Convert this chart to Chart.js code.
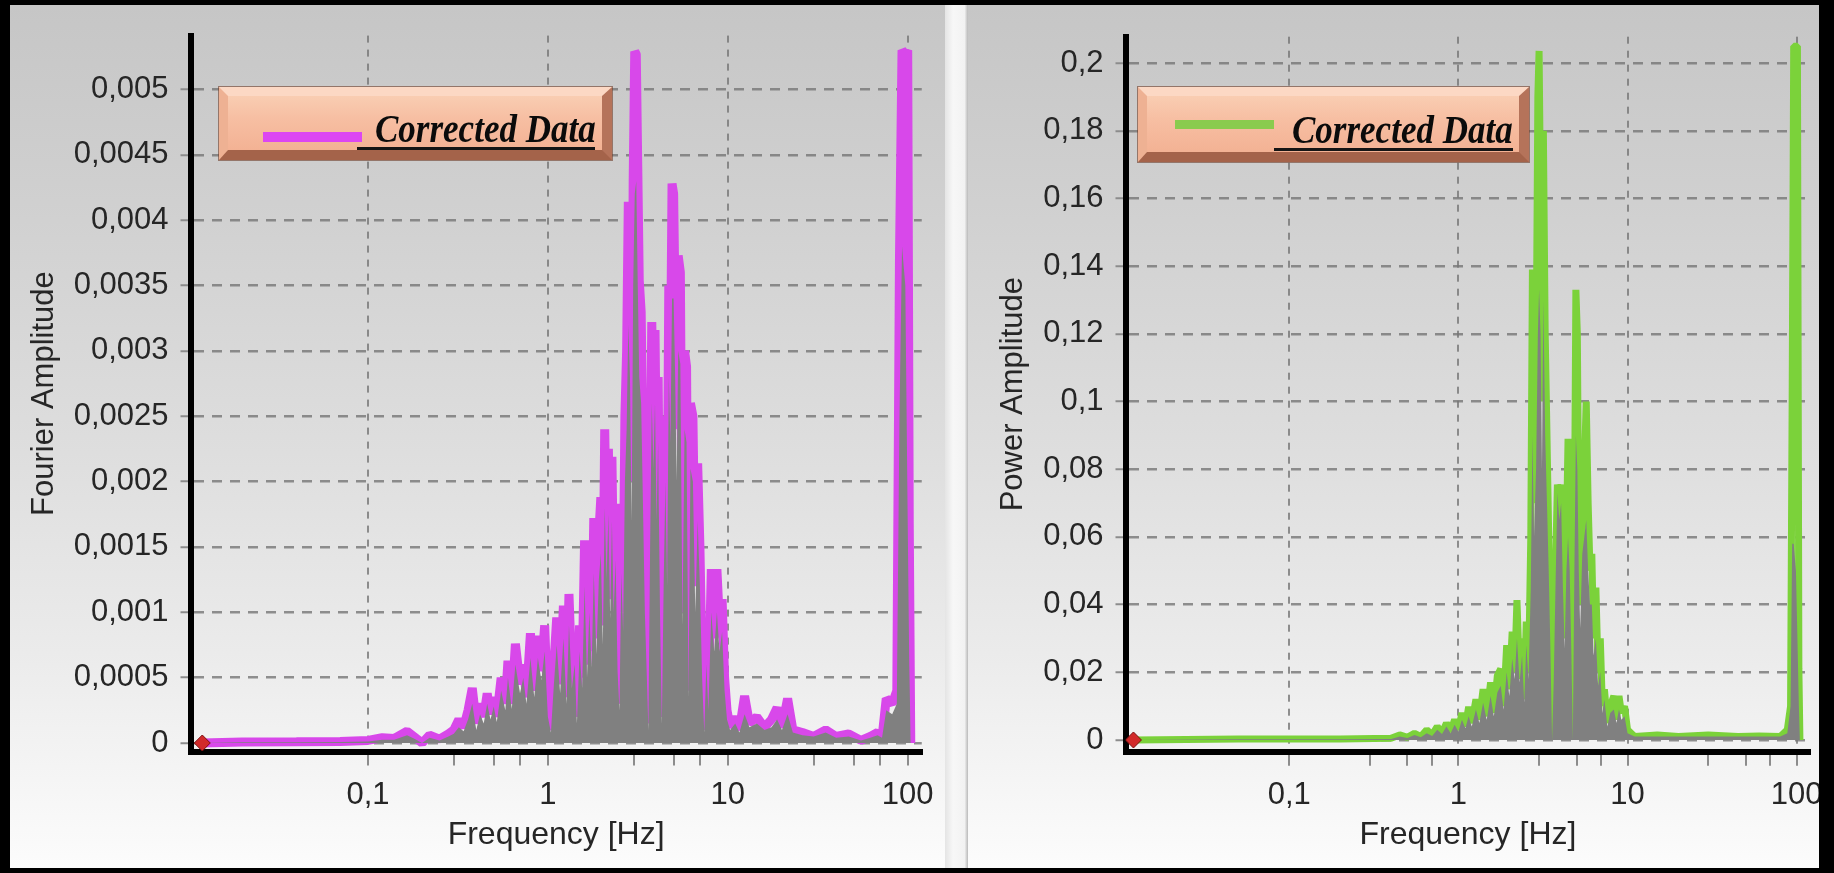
<!DOCTYPE html>
<html><head><meta charset="utf-8">
<script src="https://cdn.jsdelivr.net/npm/chart.js@4.4.1/dist/chart.umd.min.js"></script>
<style>
html,body{margin:0;padding:0;background:#000;width:1834px;height:873px;overflow:hidden;position:relative;}
.panel{position:absolute;top:5px;height:863px;background:linear-gradient(180deg,#c6c6c6 0%,#d1d1d1 25%,#dddddd 50%,#ebebeb 75%,#fcfcfc 100%);}
#pl{left:10px;width:935px;}
#sep{position:absolute;left:945px;top:5px;width:23px;height:863px;background:linear-gradient(90deg,#e4e4e4,#f7f7f7 35%,#f2f2f2 85%,#b9b9b9);}
#pr{left:968px;width:866px;}
canvas{position:absolute;left:0;top:0;}
#rb{position:absolute;left:1819px;top:0;width:15px;height:873px;background:#000;}
.lg{position:absolute;box-sizing:border-box;border-style:solid;border-width:9px 10px 10px 9px;border-color:#fcd8c4 #b5735a #a4634a #eeb193;background:linear-gradient(180deg,#f9cdb2 0%,#f7bfa3 40%,#f3b294 100%);box-shadow:0 0 0 1px rgba(110,60,40,.6);}
.sw{position:absolute;}
.lt{position:absolute;font:italic bold 35px "Liberation Serif",serif;line-height:35px;color:#0b0b0b;white-space:nowrap;transform:scaleY(1.12);transform-origin:0 29px;}
.ul{position:absolute;height:3px;background:#151515;}
</style></head>
<body>
<div id="pl" class="panel"><canvas id="cl" width="935" height="863"></canvas></div>
<div id="sep"></div>
<div id="pr" class="panel"><canvas id="cr" width="866" height="863"></canvas></div>
<div id="rb"></div>

<div class="lg" style="left:219px;top:87px;width:393px;height:73px"></div>
<div class="sw" style="left:263px;top:132px;width:99px;height:10px;background:#dc46f2"></div>
<div class="ul" style="left:357px;top:147px;width:238px"></div>
<div class="lt" style="left:375px;top:113px">Corrected Data</div>

<div class="lg" style="left:1138px;top:87px;width:391px;height:75px"></div>
<div class="sw" style="left:1175px;top:120px;width:99px;height:9px;background:#8acb4e"></div>
<div class="ul" style="left:1274px;top:148px;width:239px"></div>
<div class="lt" style="left:1292px;top:114px">Corrected Data</div>

<script>
// ---------- Left chart: Fourier amplitude spectrum ----------
const freqL = [
  0.012,0.02,0.04,0.07,0.1,0.12,0.14,0.165,0.18,0.2,
  0.22,0.25,0.28,0.3,0.32,0.34,0.36,0.38,0.40,0.42,
  0.44,0.46,0.48,0.5,0.52,0.55,0.58,0.6,0.63,0.66,
  0.7,0.73,0.76,0.8,0.84,0.88,0.92,0.96,1.0,1.04,
  1.08,1.12,1.17,1.22,1.27,1.31,1.36,1.41,1.45,1.5,
  1.55,1.6,1.65,1.7,1.75,1.8,1.86,1.92,1.97,2.02,
  2.07,2.12,2.17,2.22,2.27,2.32,2.38,2.44,2.5,2.56,
  2.62,2.68,2.74,2.8,2.86,2.92,2.98,3.04,3.1,3.16,
  3.22,3.3,3.38,3.46,3.55,3.62,3.7,3.78,3.86,3.94,
  4.02,4.1,4.2,4.3,4.4,4.5,4.6,4.7,4.8,4.9,
  5.0,5.1,5.2,5.3,5.45,5.6,5.75,5.9,6.05,6.2,
  6.4,6.6,6.8,7.0,7.2,7.4,7.6,7.8,8.1,8.4,
  8.7,9.0,9.3,9.6,9.9,10.3,11,11.6,12.4,13.2,
  14.5,16,17.5,18.8,20,21.5,23,26,30,35,
  40,47,55,62,68,72,76,82,87,90,
  93,97,100,102,104
];
const fourierCorr = [
  0,0.000008,0.00001,0.000012,0.00002,0.00004,0.000035,0.00009,0.00005,0,
  0.00006,0.00003,0.00007,0.0001,0.00018,0.00012,0.00025,0.00042,0.00015,0.0003,
  0.0002,0.00038,0.00022,0.00035,0.0002,0.0005,0.0003,0.00063,0.0003,0.00076,
  0.00045,0.0006,0.00035,0.00084,0.0004,0.00082,0.00055,0.0009,0.00025,0.0001,
  0.0006,0.00096,0.00045,0.00105,0.00035,0.00114,0.0005,0.0008,0.0002,0.0009,
  0.0005,0.00155,0.0006,0.0013,0.0007,0.00172,0.0008,0.0016,0.00188,0.0009,
  0.0024,0.0015,0.00225,0.0011,0.00219,0.0012,0.00183,0.0006,0.0003,0.0017,
  0.001,0.0025,0.003,0.00414,0.0034,0.002,0.0043,0.00529,0.00527,0.0044,
  0.00354,0.0033,0.0022,0.00125,0.0006,0.00015,0.0018,0.00322,0.0025,0.00316,
  0.002,0.0028,0.0012,0.0002,0.0015,0.0025,0.0015,0.0035,0.0028,0.00428,
  0.0042,0.0033,0.0024,0.00373,0.0036,0.001,0.003,0.00288,0.0004,0.0026,
  0.0025,0.0012,0.00214,0.0015,0.0006,0.0001,0.0007,0.0003,0.00133,0.0008,
  0.00133,0.0009,0.0011,0.0005,0.00025,0.00012,0.0002,0.0001,0.00036,0.00015,
  0.0002,0.00012,0.00018,0.00027,0.00012,0.00034,0.0001,0.00008,0.00005,0.0001,
  0.00005,0.00007,0.00002,0.00005,0.00008,0.00004,0.00034,0.0003,0.0004,0.0037,
  0.0053,0.00527,0.0053,0.00168,0
];
const fourierRaw = [
  0,0.000005,0.000006,0.000008,0.000012,0.000025,0.000025,0.00006,0.000035,0,
  0.00004,0.00002,0.00005,0.00007,0.00012,0.00009,0.00018,0.0003,0.0001,0.00022,
  0.00015,0.0003,0.00018,0.00028,0.00016,0.0004,0.00025,0.0005,0.00026,0.0006,
  0.00038,0.0005,0.0003,0.00065,0.00035,0.00065,0.00048,0.0007,0.0002,0.00008,
  0.00045,0.00075,0.00038,0.0008,0.0003,0.0009,0.00042,0.0006,0.00015,0.0007,
  0.00042,0.0012,0.0005,0.001,0.00058,0.0013,0.00068,0.00125,0.00145,0.00075,
  0.0018,0.00125,0.00175,0.00095,0.0017,0.001,0.0014,0.00055,0.00025,0.0013,
  0.00085,0.002,0.0024,0.0032,0.0028,0.0017,0.0035,0.0042,0.0043,0.0035,
  0.0028,0.0026,0.0018,0.001,0.0005,0.0001,0.0015,0.0026,0.0021,0.0026,
  0.0017,0.0023,0.001,0.00015,0.0012,0.002,0.0012,0.0028,0.0023,0.0034,
  0.0034,0.0028,0.002,0.003,0.0029,0.0009,0.0024,0.0023,0.00035,0.0021,
  0.002,0.001,0.0017,0.0012,0.0005,0.00008,0.0006,0.00025,0.001,0.0007,
  0.001,0.0007,0.00085,0.0004,0.00018,0.0001,0.00015,0.00008,0.00022,0.00012,
  0.00015,0.0001,0.00012,0.00018,0.0001,0.00022,0.00008,0.00006,0.00005,0.00008,
  0.00004,0.00005,0.00002,0.00004,0.00006,0.00004,0.00025,0.00022,0.0003,0.0025,
  0.0038,0.0035,0.0017,0.0006,0
];

// ---------- Right chart: power amplitude spectrum ----------
const freqR = [
  0.012,0.05,0.1,0.2,0.4,0.45,0.5,0.55,0.6,0.65,
  0.7,0.75,0.8,0.85,0.9,0.95,1.0,1.05,1.1,1.15,
  1.2,1.27,1.33,1.4,1.47,1.55,1.62,1.7,1.78,1.85,
  1.93,2.0,2.08,2.15,2.22,2.3,2.38,2.45,2.52,2.6,
  2.68,2.74,2.8,2.88,2.95,3.0,3.06,3.12,3.18,3.26,
  3.34,3.42,3.5,3.58,3.66,3.75,3.85,3.95,4.05,4.15,
  4.25,4.35,4.45,4.55,4.65,4.75,4.85,4.95,5.05,5.15,
  5.25,5.4,5.55,5.7,5.85,6.0,6.15,6.3,6.5,6.7,
  6.9,7.1,7.3,7.6,7.9,8.3,8.6,8.9,9.2,9.6,
  10,11,15,20,30,45,60,80,88,92,
  94,96,99,101,103,104.5
];
const powerCorr = [
  0,0.0003,0.0003,0.0003,0.0005,0.0015,0.0008,0.002,0.001,0.003,
  0.0015,0.004,0.002,0.005,0.0025,0.006,0.003,0.008,0.004,0.0098,
  0.005,0.012,0.006,0.015,0.007,0.017,0.008,0.019,0.021,0.01,
  0.028,0.015,0.032,0.02,0.0413,0.018,0.03,0.012,0.035,0.02,
  0.06,0.139,0.07,0.11,0.19,0.2036,0.16,0.1,0.18,0.12,
  0.09,0.06,0.03,0,0.02,0.05,0.0755,0.07,0.0755,0.05,
  0.03,0.06,0.089,0.06,0.03,0,0.06,0.133,0.12,0.06,
  0.04,0.07,0.08,0.1,0.07,0.05,0.055,0.03,0.045,0.02,
  0.03,0.01,0.015,0.005,0.01,0.013,0.006,0.013,0.008,0.01,
  0.003,0.001,0.0015,0.001,0.0015,0.001,0.0012,0.001,0.003,0.01,
  0.1,0.205,0.205,0.205,0.021,0
];
const powerRaw = [
  0,0.0002,0.0002,0.0002,0.0003,0.001,0.0006,0.0015,0.0008,0.002,
  0.0012,0.003,0.0018,0.004,0.002,0.0045,0.0025,0.006,0.0035,0.007,
  0.004,0.009,0.005,0.011,0.006,0.013,0.007,0.014,0.016,0.009,
  0.02,0.013,0.024,0.018,0.03,0.017,0.025,0.011,0.028,0.018,
  0.045,0.09,0.06,0.08,0.12,0.133,0.12,0.08,0.13,0.09,
  0.07,0.05,0.027,0,0.017,0.045,0.073,0.065,0.07,0.045,
  0.027,0.05,0.06,0.05,0.027,0,0.05,0.09,0.08,0.05,
  0.033,0.055,0.06,0.065,0.05,0.04,0.04,0.025,0.03,0.016,
  0.02,0.008,0.012,0.004,0.008,0.009,0.005,0.009,0.006,0.007,
  0.002,0.001,0.001,0.001,0.001,0.001,0.001,0.001,0.002,0.01,
  0.058,0.058,0.05,0.03,0.01,0
];

// ---------- Axis ticks ----------
const xTickVals   = [0.1,0.3,0.5,0.7,1,3,5,7,10,30,50,70,100];
const xTickLabels = ['0,1','','','','1','','','','10','','','','100'];
const xMajorVals  = [0.1,1,10,100];
const yTicksL      = [0,0.0005,0.001,0.0015,0.002,0.0025,0.003,0.0035,0.004,0.0045,0.005];
const yTickLabelsL = ['0','0,0005','0,001','0,0015','0,002','0,0025','0,003','0,0035','0,004','0,0045','0,005'];
const yTicksR      = [0,0.02,0.04,0.06,0.08,0.1,0.12,0.14,0.16,0.18,0.2];
const yTickLabelsR = ['0','0,02','0,04','0,06','0,08','0,1','0,12','0,14','0,16','0,18','0,2'];

const FONT = 'Liberation Sans, Arial, sans-serif';
const TXT = '#262626';
const GRID = 'rgba(118,118,118,0.8)';

function pts(xs, ys){ return xs.map((x,i)=>({x:x, y:ys[i]})); }

function build(id, o){
  return new Chart(document.getElementById(id), {
    type:'line',
    data:{datasets:[
      {label:'marker', type:'scatter', data:[{x:o.f[0], y:o.c[0]}], pointStyle:'rectRot', pointRadius:8,
       pointBackgroundColor:'#d22a2a', pointBorderColor:'#7a1010', pointBorderWidth:1, showLine:false, order:0},
      {label:'raw', data:pts(o.f,o.r), borderWidth:0, borderColor:'rgba(0,0,0,0)', backgroundColor:'#808080',
       fill:'origin', pointRadius:0, tension:0, order:1},
      {label:'Corrected Data', data:pts(o.f,o.c), borderColor:o.color, borderWidth:o.lw, borderJoinStyle:'bevel',
       fill:false, pointRadius:0, tension:0, order:2}
    ]},
    options:{
      responsive:false, animation:false, events:[],
      layout:{padding:{left:0, right:o.padR, top:o.padT, bottom:0}},
      plugins:{legend:{display:false}, tooltip:{enabled:false}},
      scales:{
        x:{type:'logarithmic', min:o.xmin, max:o.xmax,
          afterBuildTicks:s=>{ s.ticks = xTickVals.map(v=>({value:v})); },
          afterFit:s=>{ s.height = o.xh; },
          ticks:{autoSkip:false, maxRotation:0, minRotation:0, padding:11, color:TXT,
                 font:{family:FONT, size:31}, callback:(v,i)=>xTickLabels[i]},
          grid:{color:c=> (c.tick && xMajorVals.includes(c.tick.value)) ? GRID : 'rgba(0,0,0,0)',
                lineWidth:2, tickLength:14, tickColor:'#8c8c8c', tickWidth:2},
          border:{display:true, color:'#000', width:6, dash:[7,7]},
          title:{display:true, text:'Frequency [Hz]', color:TXT, font:{family:FONT, size:32},
                 padding:{top:0, bottom:14}}
        },
        y:{type:'linear', min:o.ymin, max:o.ymax,
          afterBuildTicks:s=>{ s.ticks = o.yt.map(v=>({value:v})); },
          afterFit:s=>{ s.width = o.yw; },
          ticks:{autoSkip:false, padding:12, color:TXT, font:{family:FONT, size:31},
                 callback:(v,i)=>o.ytl[i]},
          grid:{color:GRID, lineWidth:2.5, tickLength:10, tickColor:'#8c8c8c', tickWidth:2},
          border:{display:true, color:'#000', width:6, dash:[10,8]},
          title:{display:true, text:o.ytitle, color:TXT, font:{family:FONT, size:31},
                 padding:{top:o.ytp, bottom:0}}
        }
      }
    }
  });
}

build('cl', {f:freqL, c:fourierCorr, r:fourierRaw, color:'#d848ea', lw:9,
  xmin:0.01032, xmax:119.7, ymin:-0.000065, ymax:0.005412,
  yt:yTicksL, ytl:yTickLabelsL, ytitle:'Fourier Amplitude',
  yw:180.5, xh:116.5, padR:23, padT:28, ytp:16});

build('cr', {f:freqR, c:powerCorr, r:powerRaw, color:'#7bd23a', lw:7,
  xmin:0.01077, xmax:120.4, ymin:-0.00346, ymax:0.2078,
  yt:yTicksR, ytl:yTickLabelsR, ytitle:'Power Amplitude',
  yw:157.5, xh:116.3, padR:22.3, padT:31.7, ytp:27});
</script>
</body></html>
